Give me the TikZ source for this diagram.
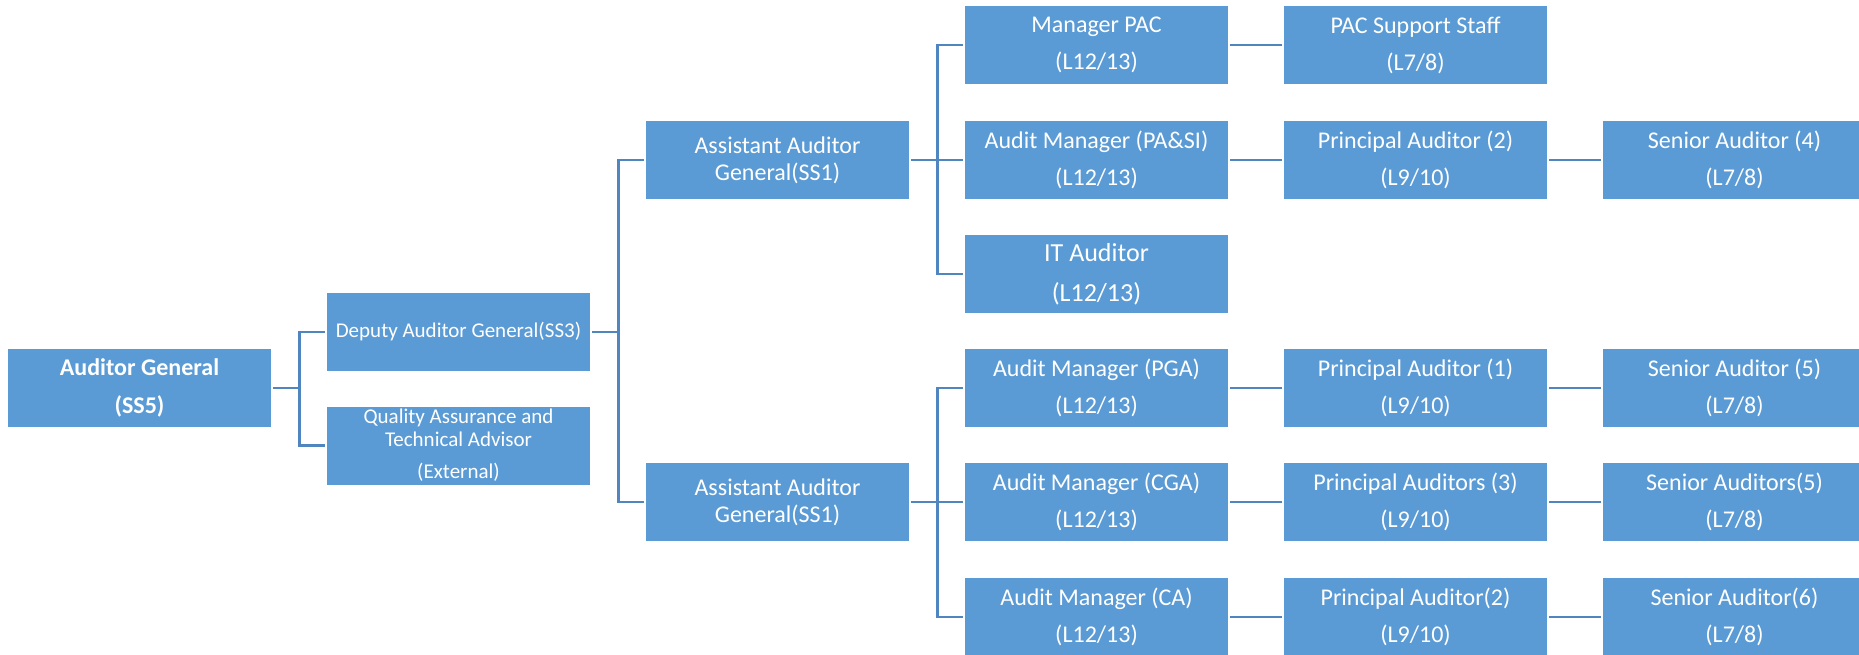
\documentclass[tikz,border=0pt]{standalone}
\usepackage{fontspec}
\setmainfont{Carlito}
\definecolor{boxblue}{HTML}{5B9BD5}
\definecolor{lineblue}{HTML}{4F86C0}
\begin{document}
\begin{tikzpicture}[x=1pt,y=-1pt,
  box/.style={fill=boxblue, minimum width=263pt, minimum height=78pt, inner sep=0pt, text=white, align=center},
  fmain/.style={font=\fontsize{24}{37}\selectfont},
  faag/.style={font=\fontsize{24}{27}\selectfont},
  fit/.style={font=\fontsize{26}{40}\selectfont},
  conn/.style={draw=lineblue, line width=2.7pt, shorten <=2pt, shorten >=2pt}]
\clip (0,0) rectangle (1859,654);
% level 0-1
\node[box, font=\fontsize{24}{38}\selectfont\bfseries] (ag) at (139.5,388) {Auditor General\\(SS5)};
\node[box, font=\fontsize{21}{25}\selectfont] (dep) at (458.5,332) {Deputy Auditor General(SS3)};
\node[box, font=\fontsize{21}{23}\selectfont] (qa) at (458.5,445.5) {Quality Assurance and\\Technical Advisor\\[9pt](External)};
% level 2
\node[box, faag] (aag1) at (777.5,160) {Assistant Auditor\\General(SS1)};
\node[box, faag] (aag2) at (777.5,502) {Assistant Auditor\\General(SS1)};
% level 3
\node[box, fmain] (mpac) at (1096.5,45) {Manager PAC\\(L12/13)};
\node[box, fmain] (mpasi) at (1096.5,160) {Audit Manager (PA\&SI)\\(L12/13)};
\node[box, fit] (itaud) at (1096.5,274) {IT Auditor\\(L12/13)};
\node[box, fmain] (mpga) at (1096.5,388) {Audit Manager (PGA)\\(L12/13)};
\node[box, fmain] (mcga) at (1096.5,502) {Audit Manager (CGA)\\(L12/13)};
\node[box, fmain] (mca) at (1096.5,617) {Audit Manager (CA)\\(L12/13)};
% level 4
\node[box, fmain] (pss) at (1415.5,45) {PAC Support Staff\\(L7/8)};
\node[box, fmain] (pa2) at (1415.5,160) {Principal Auditor (2)\\(L9/10)};
\node[box, fmain] (pa1) at (1415.5,388) {Principal Auditor (1)\\(L9/10)};
\node[box, fmain] (pa3) at (1415.5,502) {Principal Auditors (3)\\(L9/10)};
\node[box, fmain] (pa2b) at (1415.5,617) {Principal Auditor(2)\\(L9/10)};
% level 5
\node[box, fmain] (sa4) at (1734.5,160) {Senior Auditor (4)\\(L7/8)};
\node[box, fmain] (sa5) at (1734.5,388) {Senior Auditor (5)\\(L7/8)};
\node[box, fmain] (sa5b) at (1734.5,502) {Senior Auditors(5)\\(L7/8)};
\node[box, fmain] (sa6) at (1734.5,617) {Senior Auditor(6)\\(L7/8)};
% connectors
\draw[conn] (ag.east) -- ++(28,0) |- (dep.west);
\draw[conn] (ag.east) -- ++(28,0) |- (qa.west);
\draw[conn] (dep.east) -- ++(28,0) |- (aag1.west);
\draw[conn] (dep.east) -- ++(28,0) |- (aag2.west);
\draw[conn] (aag1.east) -- ++(28,0) |- (mpac.west);
\draw[conn] (aag1.east) -- ++(28,0) |- (mpasi.west);
\draw[conn] (aag1.east) -- ++(28,0) |- (itaud.west);
\draw[conn] (aag2.east) -- ++(28,0) |- (mpga.west);
\draw[conn] (aag2.east) -- ++(28,0) |- (mcga.west);
\draw[conn] (aag2.east) -- ++(28,0) |- (mca.west);
\draw[conn] (mpac.east) -- (pss.west);
\draw[conn] (mpasi.east) -- (pa2.west);
\draw[conn] (mpga.east) -- (pa1.west);
\draw[conn] (mcga.east) -- (pa3.west);
\draw[conn] (mca.east) -- (pa2b.west);
\draw[conn] (pa2.east) -- (sa4.west);
\draw[conn] (pa1.east) -- (sa5.west);
\draw[conn] (pa3.east) -- (sa5b.west);
\draw[conn] (pa2b.east) -- (sa6.west);
\end{tikzpicture}
\end{document}
